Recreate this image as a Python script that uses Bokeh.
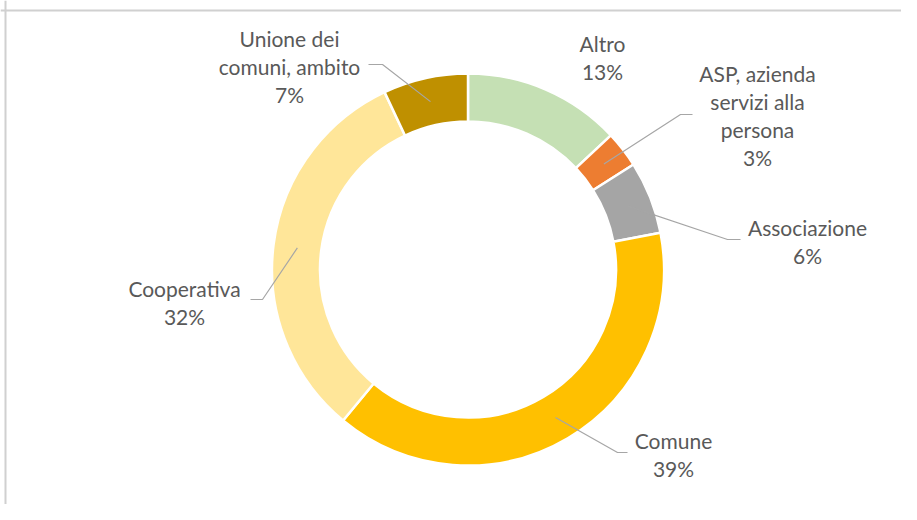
import math
from bokeh.plotting import figure
from bokeh.models import Range1d, Span, ColumnDataSource
from bokeh.core.properties import value
from bokeh.embed import file_html
from bokeh.resources import INLINE

# ---- data ----
categories = ["Altro", "ASP, azienda servizi alla persona", "Associazione",
              "Comune", "Cooperativa", "Unione dei comuni, ambito"]
shares = [13, 3, 6, 39, 32, 7]
label_lines = [["Altro"], ["ASP, azienda", "servizi alla", "persona"], ["Associazione"],
               ["Comune"], ["Cooperativa"], ["Unione dei", "comuni, ambito"]]
colors = ["#C5E0B4", "#ED7D31", "#A5A5A5", "#FFC000", "#FFE699", "#BF9000"]

# ---- layout (picture pixel coordinates) ----
W, H = 901, 504
CX, CY = 467.5, 269
R_OUT, R_IN = 196, 148
R_LEAD = 172
LINE_GAP = 28
FONT = "Lato"
FONT_SIZE = "21px"
TEXT_COLOR = "#595959"
label_pos = [(602, 43), (757, 73), (807, 227), (673, 440), (184, 288), (289, 38)]
leader_elbows = [None, [(692, 114), (680, 114)], [(740, 239), (727, 239)],
                 [(627, 452), (617, 452)], [(250, 299), (262, 299)], [(368, 64), (382, 64)]]


def ty(y):
    return H - y


p = figure(width=W, height=H, output_backend="svg", toolbar_location=None,
           x_range=Range1d(0, W), y_range=Range1d(0, H),
           min_border=0, background_fill_color="white", border_fill_color="white")
p.axis.visible = False
p.grid.visible = False
p.outline_line_color = None

# chart frame border (top and left visible)
p.add_layout(Span(location=5, dimension="height", line_color="#d0d0d0", line_width=2))
p.add_layout(Span(location=ty(10), dimension="width", line_color="#d0d0d0", line_width=2))

total = float(sum(shares))
starts, ends, mids = [], [], []
cum = 0.0
for s in shares:
    a0 = math.pi / 2 - 2 * math.pi * cum / total
    cum += s
    a1 = math.pi / 2 - 2 * math.pi * cum / total
    starts.append(a0)
    ends.append(a1)
    mids.append((a0 + a1) / 2)

src = ColumnDataSource(dict(cat=categories, share=shares, start=starts, end=ends, color=colors,
                            x=[CX] * len(shares), y=[ty(CY)] * len(shares)))
p.annular_wedge(x="x", y="y", inner_radius=R_IN, outer_radius=R_OUT,
                start_angle="start", end_angle="end", direction="clock",
                fill_color="color", line_color="white", line_width=2.5, source=src)

# leader lines
for i, el in enumerate(leader_elbows):
    if el is None:
        continue
    px = CX + R_LEAD * math.cos(mids[i])
    py = ty(CY) + R_LEAD * math.sin(mids[i])
    xs = [el[0][0], el[1][0], px]
    ys = [ty(el[0][1]), ty(el[1][1]), py]
    p.line(xs, ys, line_color="#a6a6a6", line_width=1.2)

# labels
for i, lines in enumerate(label_lines):
    allines = lines + [f"{shares[i]}%"]
    lx, ly = label_pos[i]
    for k, t in enumerate(allines):
        p.text(x=[lx], y=[ty(ly + k * LINE_GAP)], text=[t], text_align="center",
               text_baseline="middle", text_font=value(FONT), text_font_size=FONT_SIZE,
               text_color=TEXT_COLOR)

open("out.html", "w").write(file_html(p, INLINE))
